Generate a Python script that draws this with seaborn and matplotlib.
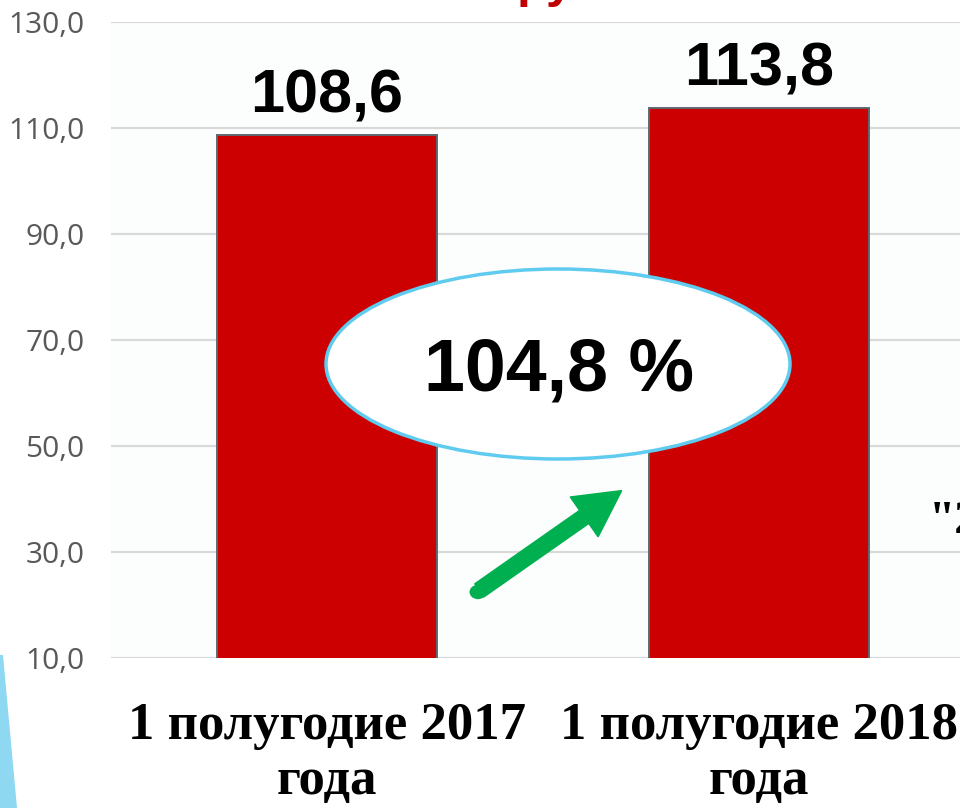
import matplotlib
matplotlib.use("Agg")
import matplotlib.pyplot as plt
import seaborn as sns
import pandas as pd
from matplotlib.patches import Ellipse, FancyArrowPatch, Polygon, Circle

# ---- data ----
categories = ["1 полугодие 2017\nгода", "1 полугодие 2018\nгода"]
values = [108.6, 113.8]
value_labels = ["108,6", "113,8"]
growth_label = "104,8 %"
y_ticks = [10, 30, 50, 70, 90, 110, 130]
y_tick_labels = ["10,0", "30,0", "50,0", "70,0", "90,0", "110,0", "130,0"]

W, H = 960, 808
sns.set_theme(style="white")
plt.rcParams["font.family"] = ["Liberation Sans", "DejaVu Sans"]

fig = plt.figure(figsize=(W / 100, H / 100), dpi=100)
fig.patch.set_facecolor("white")

def px(x, y):
    return (x / W, 1 - y / H)

ax = fig.add_axes([111 / W, (H - 658) / H, 864 / W, (658 - 22) / H])
ax.set_facecolor("#fcfdfd")

df = pd.DataFrame({"period": categories, "value": values})
sns.barplot(data=df, x="period", y="value", color="#CC0000", saturation=1,
            width=0.507, edgecolor="#5e6a70", linewidth=1.4, ax=ax, zorder=3)

ax.set_ylim(10, 130)
ax.set_xlim(-0.5, 1.5)
ax.set_yticks(y_ticks)
ax.set_yticklabels(y_tick_labels, fontsize=21.5, color="#595959", family=["Open Sans", "DejaVu Sans"])
ax.tick_params(axis="y", length=0, pad=19)
ax.tick_params(axis="x", length=0, pad=32)
for lab in ax.get_xticklabels():
    lab.set_fontsize(38)
    lab.set_fontweight("bold")
    lab.set_family(["Liberation Serif", "DejaVu Serif"])
    lab.set_color("black")
    lab.set_linespacing(1.18)
ax.set_xlabel("")
ax.set_ylabel("")
ax.grid(axis="y", color="#d9d9d9", linewidth=1.6, zorder=0)
ax.set_axisbelow(True)
for s in ax.spines.values():
    s.set_visible(False)

# value labels
for i, (v, lab) in enumerate(zip(values, value_labels)):
    ax.annotate(lab, (i, v), xytext=(0, 7), textcoords="offset points",
                ha="center", va="bottom", fontsize=44, fontweight="bold", color="black")

# ellipse with growth
ell = Ellipse(px(558, 364), 464 / W, 190 / H, transform=fig.transFigure,
              facecolor="white", edgecolor="#5fcbef", linewidth=2.5, zorder=10)
fig.patches.append(ell)
fig.text(*px(559, 371), growth_label, ha="center", va="center", fontsize=53,
         fontweight="bold", color="black", zorder=11)

# green arrow
arr = FancyArrowPatch(px(477, 592), px(624, 489), transform=fig.transFigure,
                      arrowstyle="simple,tail_width=11.5,head_width=35,head_length=33",
                      mutation_scale=1, color="#00B050", linewidth=1.0,
                      joinstyle="miter", zorder=12)
fig.patches.append(arr)
tail = Circle(px(478, 592), 8.5 / W, transform=fig.transFigure,
              facecolor="#00B050", edgecolor="none", zorder=12)
fig.patches.append(tail)

# cut-off red heading on top
fig.text(*px(517, -3), "руб.", ha="left", va="baseline", fontsize=36,
         fontweight="bold", color="#C00000")
fig.text(*px(508, -3), "млн.", ha="right", va="baseline", fontsize=36,
         fontweight="bold", color="#C00000")

# cut-off text on right
fig.text(*px(929, 533), "\"2", ha="left", va="baseline", fontsize=34,
         fontweight="bold", color="black", family=["Liberation Serif", "DejaVu Serif"])

# light blue decoration at left bottom
poly = Polygon([px(0, 655), px(3, 655), px(17, 808), px(0, 808)], closed=True,
               transform=fig.transFigure, facecolor="#8fd8f2", edgecolor="none")
fig.patches.append(poly)

fig.savefig("out.png", dpi=100)
